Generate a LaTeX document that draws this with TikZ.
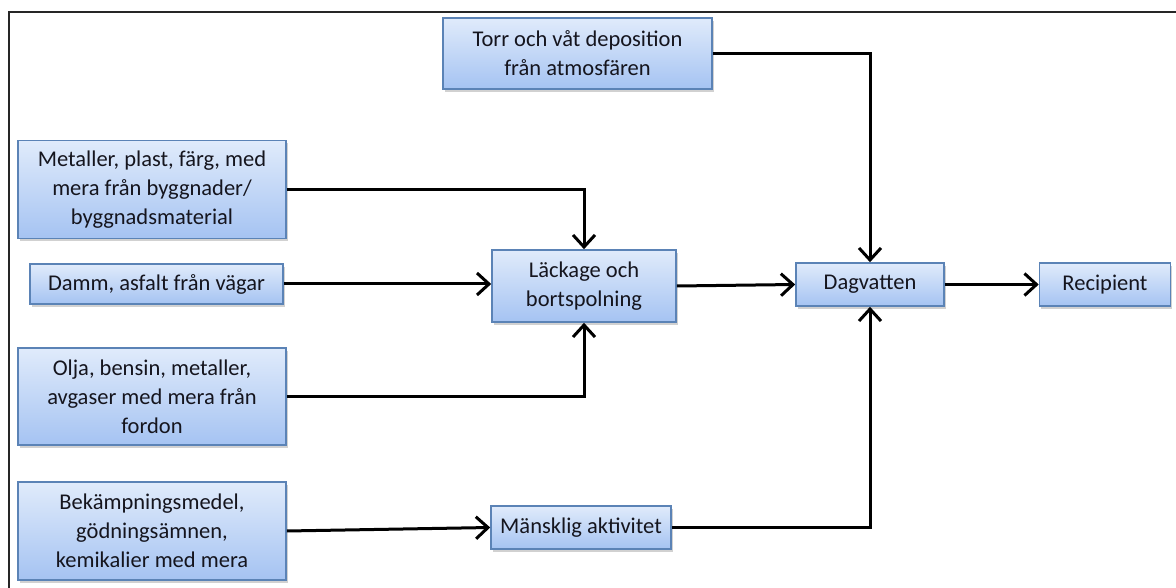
\documentclass[tikz,border=0pt]{standalone}
\usepackage{fontspec}
\setmainfont{Carlito}
\usetikzlibrary{arrows.meta,shadows}
\definecolor{boxtop}{HTML}{E0EBFB}
\definecolor{boxbot}{HTML}{A5C3F2}
\definecolor{boxline}{HTML}{5B83B6}
\definecolor{txt}{HTML}{15151E}
\tikzset{
  box/.style={draw=boxline, line width=1.6pt, top color=boxtop, bottom color=boxbot,
    align=center, inner sep=0pt, text=txt,
    font=\fontsize{22.5}{29}\selectfont,
    drop shadow={shadow xshift=1.5pt, shadow yshift=-3pt, opacity=0.18, fill=black}},
  conn/.style={line width=3pt, -{Straight Barb[length=12pt,width=22pt,line width=3pt]}},
}
\begin{document}
\begin{tikzpicture}[x=1pt,y=-1pt]
\useasboundingbox (0,0) rectangle (1176,588);
\fill[white] (0,0) rectangle (1176,588);
\draw[line width=2pt, black!85] (1176,12) -- (9,12) -- (9,588);

\node[box, minimum width=269pt, minimum height=71pt] (torr) at (577.5,53.5) {Torr och våt deposition\\från atmosfären};
\node[box, minimum width=268pt, minimum height=98pt] (met) at (152,189.5) {Metaller, plast, färg, med\\mera från byggnader/\\byggnadsmaterial};
\node[box, minimum width=253pt, minimum height=40pt] (damm) at (156.5,284) {Damm, asfalt från vägar};
\node[box, minimum width=184pt, minimum height=72pt] (lack) at (584,286) {Läckage och\\bortspolning};
\node[box, minimum width=268pt, minimum height=97pt] (olja) at (152,396.5) {Olja, bensin, metaller,\\avgaser med mera från\\fordon};
\node[box, minimum width=268pt, minimum height=98pt] (bek) at (152,531) {Bekämpningsmedel,\\gödningsämnen,\\kemikalier med mera};
\node[box, minimum width=180pt, minimum height=43pt] (mansk) at (581,527.5) {Mänsklig aktivitet};
\node[box, minimum width=148pt, minimum height=43pt] (dag) at (870,284.5) {Dagvatten};
\node[box, minimum width=131pt, minimum height=43pt] (rec) at (1105,284.5) {Recipient};

\draw[conn] (met.east) -| (lack.north);
\draw[conn] (damm.east) -- (damm.east -| lack.west);
\draw[conn] (olja.east) -| (lack.south);
\draw[conn] (lack.east) -- (dag.west);
\draw[conn] (torr.east) -| (dag.north);
\draw[conn] (bek.east) -- (mansk.west);
\draw[conn] (mansk.east) -| (dag.south);
\draw[conn] (dag.east) -- (rec.west);
\end{tikzpicture}
\end{document}
